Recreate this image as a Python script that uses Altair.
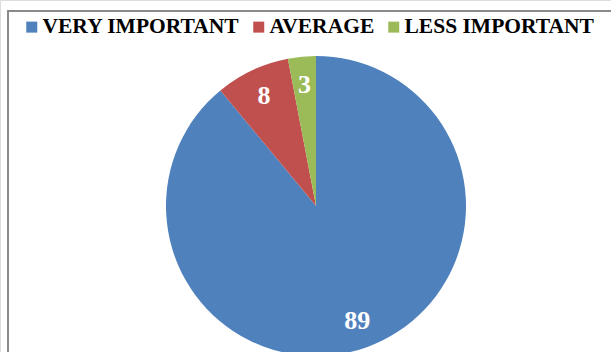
import altair as alt
import pandas as pd

categories = ["VERY IMPORTANT", "AVERAGE", "LESS IMPORTANT"]
values = [89, 8, 3]
colors = ["#4F81BD", "#C0504D", "#9BBB59"]

df = pd.DataFrame({"category": categories, "value": values, "idx": list(range(len(categories)))})

FONT = "Liberation Serif"

color_scale = alt.Scale(domain=categories, range=colors)

base = alt.Chart(df).encode(
    theta=alt.Theta("value:Q", stack=True),
    order=alt.Order("idx:O"),
    x=alt.value(316),
    y=alt.value(206),
)

arcs = base.mark_arc(radius=150, stroke=None).encode(
    color=alt.Color(
        "category:N",
        scale=color_scale,
        sort=categories,
        legend=alt.Legend(
            title=None,
            orient="none",
            legendX=21,
            legendY=16,
            direction="horizontal",
            symbolType="square",
            symbolSize=121,
            symbolStrokeWidth=0,
            symbolOpacity=1,
            labelFont=FONT,
            labelFontSize=21.5,
            labelFontWeight="bold",
            labelColor="black",
            labelOffset=0,
            labelLimit=400,
            columnPadding=8,
            padding=0,
        ),
    )
)

labels = base.mark_text(
    radius=122, font=FONT, fontSize=26, fontWeight="bold", color="white", baseline="middle", align="center"
).encode(text="value:Q")

border = alt.Chart(pd.DataFrame({"a": [0]})).mark_rect(
    fill=None, stroke="#8a8a8a", strokeWidth=2
).encode(x=alt.value(8), y=alt.value(11), x2=alt.value(700), y2=alt.value(500))

chart = alt.layer(border, arcs, labels).properties(
    width=611, height=352, padding=0, autosize=alt.AutoSizeParams(type="none")
).configure_view(stroke=None).configure(background="white")

chart.save("out.html", embed_options={"renderer": "svg", "actions": False})
